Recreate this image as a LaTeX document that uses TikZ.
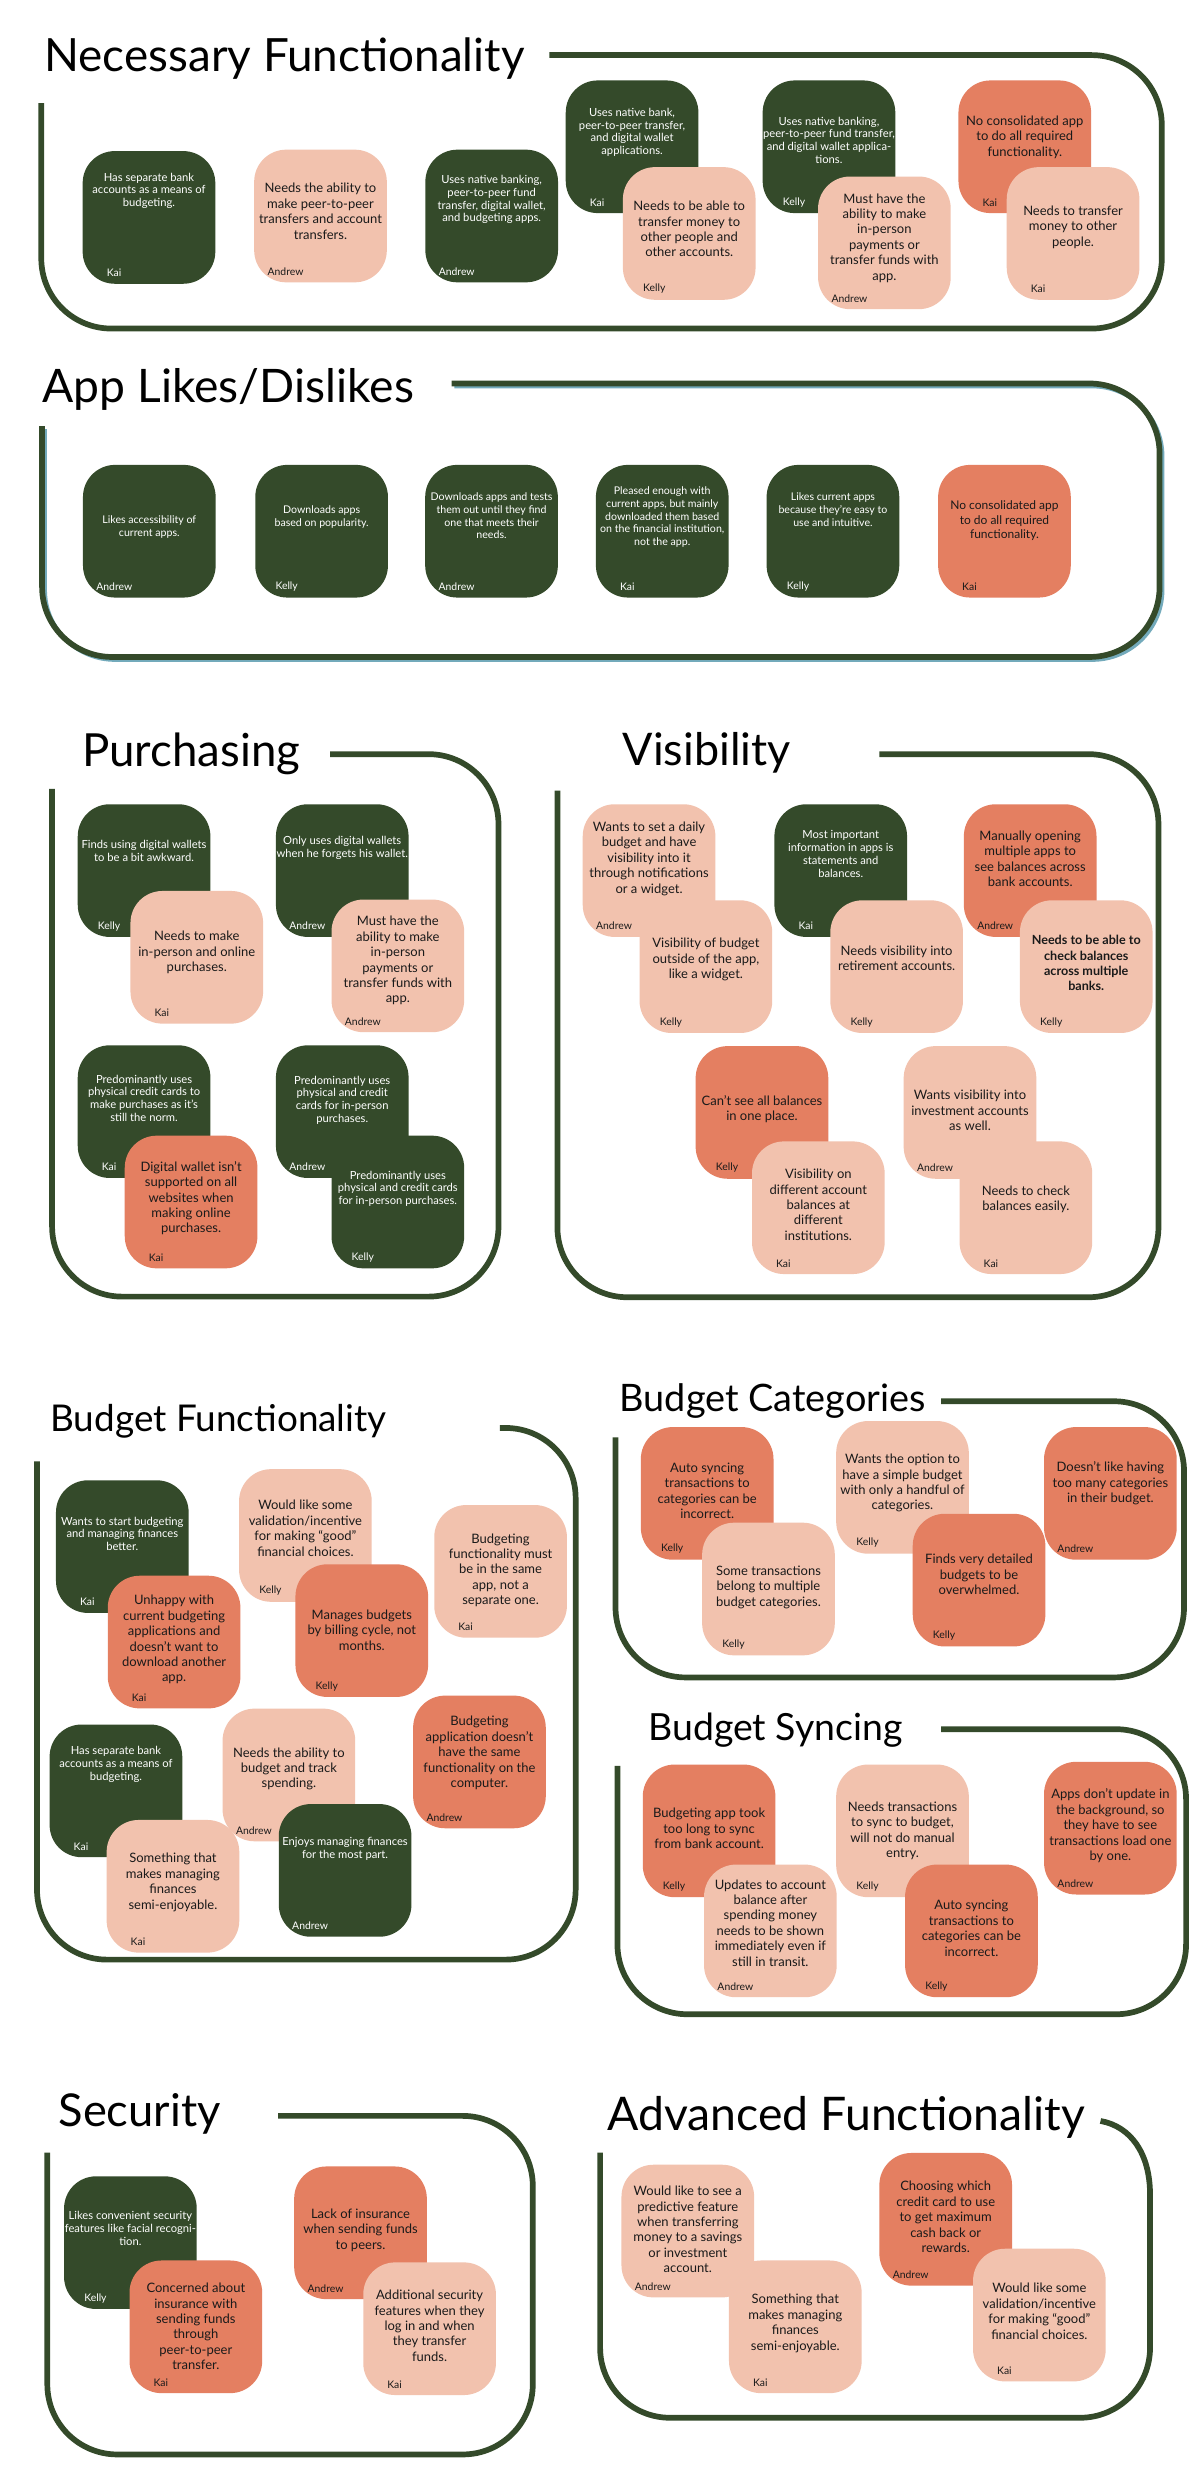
\documentclass[tikz,border=0pt]{standalone}
\usepackage{fontspec}
\setmainfont{Lato}
\usepackage{graphicx}
\usetikzlibrary{calc}
\definecolor{dkg}{HTML}{344A2A}
\definecolor{pkc}{HTML}{F2C2AE}
\definecolor{ogc}{HTML}{E47F61}
\definecolor{shd}{HTML}{73AABB}
\definecolor{inkc}{HTML}{1A1A1A}
\tikzset{
 notebox/.style={rectangle, rounded corners=16pt, minimum width=66.3pt, minimum height=66.3pt, inner sep=0pt, anchor=north west, draw=none},
 dk/.style={notebox, fill=dkg},
 pk/.style={notebox, fill=pkc},
 og/.style={notebox, fill=ogc},
 dktxt/.style={text=white, font=\fontsize{5.6}{6.4}\selectfont, align=center, inner sep=0pt},
 pktxt/.style={text=inkc, font=\fontsize{6.5}{7.7}\selectfont, align=center, inner sep=0pt},
 ogtxt/.style={pktxt},
 dknm/.style={text=white, font=\fontsize{5.2}{6}\selectfont, inner sep=0pt},
 pknm/.style={text=inkc, font=\fontsize{5.2}{6}\selectfont, inner sep=0pt},
 ognm/.style={pknm},
 frame/.style={draw=dkg, line width=2.85pt, rounded corners=35pt},
 ttl/.style={anchor=base west, inner sep=0pt, text=black},
}
\newcommand\stk[8][]{%
 \node[#3] (#2) at (#4,#5) {};
 \node[#3txt,#1] (#2-t) at ($(#2.north)+(0,#6)$) {#7};
 \node[#3nm] (#2-n) at ($(#2.north west)+(20,77)$) {#8};
}
\begin{document}
\begin{tikzpicture}[x=0.79365pt, y=-0.79365pt]
\useasboundingbox (0,0) rectangle (756,1568);
\fill[white] (0,0) rectangle (756,1568);

% ---------- frames ----------
\draw[frame] (346,34.7) -- (731.6,34.7) -- (731.6,206.9) -- (26,206.9) -- (26,65);
\draw[frame, draw=shd, line width=2pt, shift={(1.8,1.8)}] (284.4,241.5) -- (730.2,241.5) -- (730.2,413.7) -- (26.5,413.7) -- (26.5,268.4);
\draw[frame] (284.4,241.5) -- (730.2,241.5) -- (730.2,413.7) -- (26.5,413.7) -- (26.5,268.4);
\draw[frame] (207.9,474.9) -- (313.9,474.9) -- (313.9,816.5) -- (32.8,816.5) -- (32.8,496.7);
\draw[frame] (553.7,474.9) -- (729.5,474.9) -- (729.5,816.9) -- (351,816.9) -- (351,497.9);
\draw[frame] (314.7,899.2) -- (362.5,899.2) -- (362.5,1234) -- (23.3,1234) -- (23.3,920.2);
\draw[frame] (592.6,882.4) -- (745.6,882.4) -- (745.6,1056.3) -- (387.6,1056.3) -- (387.6,905.1);
\draw[frame] (592.6,1088.9) -- (746.9,1088.9) -- (746.9,1268.4) -- (388.8,1268.4) -- (388.8,1112);
\draw[frame] (175.2,1332.4) -- (335.5,1332.4) -- (335.5,1545.6) -- (29.8,1545.6) -- (29.8,1355.5);
\draw[frame, rounded corners=0pt] (693,1335.6) .. controls (712,1339) and (724.2,1356) .. (724.2,1382);
\draw[frame] (724.2,1381) -- (724.2,1522.5) -- (377.9,1522.5) -- (377.9,1355.5);

% ---------- titles ----------
\node[ttl] (t1) at (27.7,45.2) {\resizebox{240pt}{!}{Necessary Functionality}};
\node[ttl] (t2) at (26.5,253.7) {\resizebox{185.6pt}{!}{App Likes/Dislikes}};
\node[ttl] (t3) at (51.4,482.5) {\resizebox{109pt}{!}{Purchasing}};
\node[ttl] (t4) at (391.9,482) {\resizebox{84pt}{!}{Visibility}};
\node[ttl] (t5) at (31.5,901.6) {\resizebox{168pt}{!}{Budget Functionality}};
\node[ttl] (t6) at (390,888.7) {\resizebox{153pt}{!}{Budget Categories}};
\node[ttl] (t7) at (408.1,1096.2) {\resizebox{127pt}{!}{Budget Syncing}};
\node[ttl] (t8) at (36.6,1338.8) {\resizebox{81pt}{!}{Security}};
\node[ttl] (t9) at (382.3,1341.5) {\resizebox{238.7pt}{!}{Advanced Functionality}};

% ---------- Necessary Functionality ----------
\stk{na}{dk}{51.8}{94.9}{25.3}{Has separate bank\\accounts as a means of\\budgeting.}{Kai}
\stk{nb}{pk}{159.8}{94}{39}{Needs the ability to\\make peer-to-peer\\transfers and account\\transfers.}{Andrew}
\stk{nc}{dk}{267.6}{94}{31.7}{Uses native banking,\\peer-to-peer fund\\transfer, digital wallet,\\and budgeting apps.}{Andrew}
\stk{nd}{dk}{356}{50.4}{32.9}{Uses native bank,\\peer-to-peer transfer,\\and digital wallet\\applications.}{Kai}
\stk{ne}{pk}{392}{105}{39.3}{Needs to be able to\\transfer money to\\other people and\\other accounts.}{Kelly}
\stk{nf}{dk}{480}{50.4}{37.9}{Uses native banking,\\peer-to-peer fund transfer,\\and digital wallet applica-\\tions.}{Kelly}
\stk{ng}{pk}{514.9}{110.9}{38.9}{Must have the\\ability to make\\in-person\\payments or\\transfer funds with\\app.}{Andrew}
\stk{nh}{og}{603.3}{50.4}{36}{No consolidated app\\to do all required\\functionality.}{Kai}
\stk{ni}{pk}{633.7}{105}{38}{Needs to transfer\\money to other\\people.}{Kai}

% ---------- App Likes/Dislikes ----------
\stk[font=\fontsize{5.3}{6.4}\selectfont]{la}{dk}{52}{292.5}{39.6}{Likes accessibility of\\current apps.}{Andrew}
\stk[font=\fontsize{5.3}{6.4}\selectfont]{lb}{dk}{160.5}{292.5}{33.2}{Downloads apps\\based on popularity.}{Kelly}
\stk[font=\fontsize{5.3}{6.4}\selectfont]{lc}{dk}{267.5}{292.5}{32.3}{Downloads apps and tests\\them out until they find\\one that meets their\\needs.}{Andrew}
\stk[font=\fontsize{5.3}{6.4}\selectfont]{ld}{dk}{375}{292.5}{33.1}{Pleased enough with\\current apps, but mainly\\downloaded them based\\on the financial institution,\\not the app.}{Kai}
\stk[font=\fontsize{5.3}{6.4}\selectfont]{le}{dk}{482.5}{292.5}{28.3}{Likes current apps\\because they’re easy to\\use and intuitive.}{Kelly}
\stk[font=\fontsize{6}{7.3}\selectfont]{lf}{og}{590.5}{292.5}{35.5}{No consolidated app\\to do all required\\functionality.}{Kai}

% ---------- Purchasing ----------
\stk{pa}{dk}{48.7}{506.2}{29.6}{Finds using digital wallets\\to be a bit awkward.}{Kelly}
\stk{pb}{pk}{81.9}{560.8}{38.9}{Needs to make\\in-person and online\\purchases.}{Kai}
\stk{pc}{dk}{173.5}{506.2}{27.8}{Only uses digital wallets\\when he forgets his wallet.}{Andrew}
\stk{pd}{pk}{208.5}{566.2}{38.8}{Must have the\\ability to make\\in-person\\payments or\\transfer funds with\\app.}{Andrew}
\stk{pe}{dk}{48.7}{658}{33.6}{Predominantly uses\\physical credit cards to\\make purchases as it’s\\still the norm.}{Kai}
\stk{pf}{og}{78.3}{714.9}{39.7}{Digital wallet isn’t\\supported on all\\websites when\\making online\\purchases.}{Kai}
\stk{pg}{dk}{173.5}{658}{34.8}{Predominantly uses\\physical and credit\\cards for in-person\\purchases.}{Andrew}
\stk{ph}{dk}{208.5}{714.9}{33.7}{Predominantly uses\\physical and credit cards\\for in-person purchases.}{Kelly}

% ---------- Visibility ----------
\stk{va}{pk}{366.7}{506.2}{34.6}{Wants to set a daily\\budget and have\\visibility into it\\through notifications\\or a widget.}{Andrew}
\stk{vb}{pk}{402.5}{566.7}{37.7}{Visibility of budget\\outside of the app,\\like a widget.}{Kelly}
\stk{vc}{dk}{487.4}{506.2}{31.6}{Most important\\information in apps is\\statements and\\balances.}{Kai}
\stk{vd}{pk}{522.6}{566.7}{36.7}{Needs visibility into\\retirement accounts.}{Kelly}
\stk{ve}{og}{606.7}{506.2}{34.7}{Manually opening\\multiple apps to\\see balances across\\bank accounts.}{Andrew}
\stk[font=\fontsize{6.3}{7.7}\selectfont\bfseries]{vf}{pk}{642}{566.7}{39.8}{Needs to be able to\\check balances\\across multiple\\banks.}{Kelly}
\stk{vg}{og}{437.8}{658.5}{40}{Can’t see all balances\\in one place.}{Kelly}
\stk{vh}{pk}{473.3}{718.5}{40.1}{Visibility on\\different account\\balances at\\different\\institutions.}{Kai}
\stk{vi}{pk}{568.8}{658.5}{40.9}{Wants visibility into\\investment accounts\\as well.}{Andrew}
\stk{vj}{pk}{604}{718.5}{36.7}{Needs to check\\balances easily.}{Kai}

% ---------- Budget Functionality ----------
\stk{ba}{dk}{35}{931.9}{34}{Wants to start budgeting\\and managing finances\\better.}{Kai}
\stk{bb}{og}{67.6}{992}{40.5}{Unhappy with\\current budgeting\\applications and\\doesn’t want to\\download another\\app.}{Kai}
\stk{bc}{pk}{150.3}{924.9}{37.4}{Would like some\\validation/incentive\\for making “good”\\financial choices.}{Kelly}
\stk{bd}{og}{185.8}{984.8}{41.6}{Manages budgets\\by billing cycle, not\\months.}{Kelly}
\stk{be}{pk}{273.2}{947.5}{41.3}{Budgeting\\functionality must\\be in the same\\app, not a\\separate one.}{Kai}
\stk{bf}{dk}{31}{1085.7}{25.4}{Has separate bank\\accounts as a means of\\budgeting.}{Kai}
\stk{bg}{pk}{66.9}{1145.8}{39.6}{Something that\\makes managing\\finances\\semi-enjoyable.}{Kai}
\stk{bh}{pk}{139.9}{1075.7}{38.2}{Needs the ability to\\budget and track\\spending.}{Andrew}
\stk{bi}{dk}{175.3}{1135.8}{28.6}{Enjoys managing finances\\for the most part.}{Andrew}
\stk{bj}{og}{259.9}{1067.5}{36.4}{Budgeting\\application doesn’t\\have the same\\functionality on the\\computer.}{Andrew}

% ---------- Budget Categories ----------
\stk{ca}{og}{403.3}{898.4}{40.3}{Auto syncing\\transactions to\\categories can be\\incorrect.}{Kelly}
\stk{cb}{pk}{441.9}{958.6}{41}{Some transactions\\belong to multiple\\budget categories.}{Kelly}
\stk{cc}{pk}{526.3}{894.6}{39.4}{Wants the option to\\have a simple budget\\with only a handful of\\categories.}{Kelly}
\stk{cd}{og}{574.5}{953}{38.5}{Finds very detailed\\budgets to be\\overwhelmed.}{Kelly}
\stk{ce}{og}{657.2}{898.4}{35.8}{Doesn’t like having\\too many categories\\in their budget.}{Andrew}

% ---------- Budget Syncing ----------
\stk{sa}{og}{404.5}{1110.9}{40.4}{Budgeting app took\\too long to sync\\from bank account.}{Kelly}
\stk{sb}{pk}{443.1}{1173.9}{36.9}{Updates to account\\balance after\\spending money\\needs to be shown\\immediately even if\\still in transit.}{Andrew}
\stk{sc}{pk}{526.3}{1110.9}{41.9}{Needs transactions\\to sync to budget,\\will not do manual\\entry.}{Kelly}
\stk{sd}{og}{569.7}{1173.9}{40.4}{Auto syncing\\transactions to\\categories can be\\incorrect.}{Kelly}
\stk{se}{og}{657.2}{1109.2}{40.5}{Apps don’t update in\\the background, so\\they have to see\\transactions load one\\by one.}{Andrew}

% ---------- Security ----------
\stk{xa}{dk}{40.1}{1370.2}{33.1}{Likes convenient security\\features like facial recogni-\\tion.}{Kelly}
\stk{xb}{og}{81.3}{1423.2}{41.8}{Concerned about\\insurance with\\sending funds\\through\\peer-to-peer\\transfer.}{Kai}
\stk{xc}{og}{185}{1364}{40.4}{Lack of insurance\\when sending funds\\to peers.}{Andrew}
\stk{xd}{pk}{228.5}{1424.4}{40.1}{Additional security\\features when they\\log in and when\\they transfer\\funds.}{Kai}

% ---------- Advanced Functionality ----------
\stk{aa}{pk}{391.1}{1362.9}{41}{Would like to see a\\predictive feature\\when transferring\\money to a savings\\or investment\\account.}{Andrew}
\stk{ab}{pk}{458.8}{1423.2}{39.8}{Something that\\makes managing\\finances\\semi-enjoyable.}{Kai}
\stk{ac}{og}{553.5}{1355.5}{40.5}{Choosing which\\credit card to use\\to get maximum\\cash back or\\rewards.}{Andrew}
\stk{ad}{pk}{612.5}{1415.8}{39.6}{Would like some\\validation/incentive\\for making “good”\\financial choices.}{Kai}
\end{tikzpicture}
\end{document}
